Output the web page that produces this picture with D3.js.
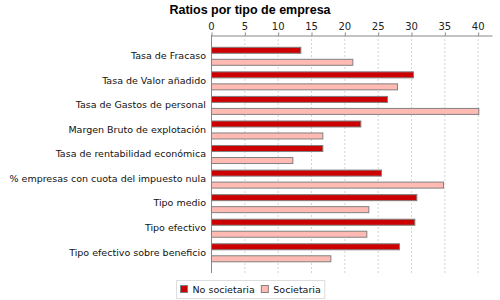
<!DOCTYPE html>
<html>
<head>
<meta charset="utf-8">
<script src="https://cdn.jsdelivr.net/npm/d3@7"></script>
<style>
  body { margin: 0; background: #fff; }
  text { font-family: "DejaVu Sans", sans-serif; }
</style>
</head>
<body>
<div id="chart"></div>
<script>
// data
var categories = [
    "Tasa de Fracaso",
    "Tasa de Valor añadido",
    "Tasa de Gastos de personal",
    "Margen Bruto de explotación",
    "Tasa de rentabilidad económica",
    "% empresas con cuota del impuesto nula",
    "Tipo medio",
    "Tipo efectivo",
    "Tipo efectivo sobre beneficio"
];
var seriesNames = ["No societaria", "Societaria"];
var noSocietaria = [13.4, 30.3, 26.4, 22.4, 16.7, 25.5, 30.8, 30.5, 28.2];
var societaria = [21.2, 27.9, 40.1, 16.7, 12.2, 34.8, 23.6, 23.3, 17.9];
var xTicks = [0, 5, 10, 15, 20, 25, 30, 35, 40];
var colors = ["#cc0000", "#ffbbb3"];

var W = 500, H = 300;
var margin = { top: 35, right: 8, bottom: 27, left: 211 };

var svg = d3.select("#chart")
    .append("svg")
    .attr("width", W)
    .attr("height", H);

// title
svg.append("text")
    .attr("x", 250)
    .attr("y", 14)
    .attr("text-anchor", "middle")
    .style("font-family", "'Liberation Sans', Arial, sans-serif")
    .style("font-weight", "bold")
    .style("font-size", "12.5px")
    .text("Ratios por tipo de empresa");

var x = d3.scaleLinear()
    .domain([0, 42.15])
    .range([margin.left, W - margin.right]);

var y = d3.scaleBand()
    .domain(categories)
    .range([margin.top, H - margin.bottom])
    .paddingInner(0.27)
    .paddingOuter(0.48);

var ySub = d3.scaleBand()
    .domain(seriesNames)
    .range([0, y.bandwidth()])
    .paddingInner(0.5);

// gridlines
svg.append("g")
    .selectAll("line")
    .data(xTicks.slice(1))
    .join("line")
    .attr("x1", d => x(d) + 0.5)
    .attr("x2", d => x(d) + 0.5)
    .attr("y1", margin.top)
    .attr("y2", H - margin.bottom)
    .attr("stroke", "#d4d4d4")
    .attr("stroke-dasharray", "2,2");

// top axis
var xAxis = svg.append("g")
    .attr("transform", "translate(0," + (margin.top + 0.5) + ")")
    .call(d3.axisTop(x).tickValues(xTicks).tickSize(3).tickPadding(3).tickSizeOuter(0));
xAxis.select(".domain").attr("stroke", "#888");
xAxis.selectAll(".tick line").attr("stroke", "#888").attr("transform", "translate(0.5,0)");
xAxis.selectAll(".tick text")
    .style("font-size", "10px")
    .attr("fill", "#222");

// left axis line
svg.append("line")
    .attr("x1", margin.left + 0.5)
    .attr("x2", margin.left + 0.5)
    .attr("y1", margin.top)
    .attr("y2", H - margin.bottom)
    .attr("stroke", "#888");

// category labels
svg.append("g")
    .selectAll("text")
    .data(categories)
    .join("text")
    .attr("x", margin.left - 5)
    .attr("y", d => y(d) + y.bandwidth() / 2)
    .attr("dy", "0.35em")
    .attr("text-anchor", "end")
    .style("font-size", "9.5px")
    .attr("fill", "#111")
    .text(d => d);

// bars
var rows = categories.map((c, i) => ({ cat: c, values: [noSocietaria[i], societaria[i]] }));
var groups = svg.append("g")
    .selectAll("g")
    .data(rows)
    .join("g")
    .attr("transform", d => "translate(0," + y(d.cat) + ")");

groups.selectAll("rect")
    .data(d => d.values.map((v, j) => ({ name: seriesNames[j], value: v, j: j })))
    .join("rect")
    .attr("x", x(0) + 0.5)
    .attr("y", d => Math.round(ySub(d.name)) + 0.5)
    .attr("width", d => x(d.value) - x(0))
    .attr("height", Math.round(ySub.bandwidth()))
    .attr("fill", d => colors[d.j])
    .attr("stroke", "#808080")
    .attr("stroke-width", 1);

// legend
var legend = svg.append("g");
var box = legend.append("rect")
    .attr("x", 176.5)
    .attr("y", 280.5)
    .attr("height", 18)
    .attr("fill", "#fff")
    .attr("stroke", "#ddd");

var lx = 180;
seriesNames.forEach(function (name, i) {
    legend.append("rect")
        .attr("x", lx + 0.5)
        .attr("y", 285.5)
        .attr("width", 7)
        .attr("height", 7)
        .attr("fill", colors[i])
        .attr("stroke", "#808080");
    var t = legend.append("text")
        .attr("x", lx + 12.5)
        .attr("y", 289.5)
        .attr("dy", "0.35em")
        .style("font-size", "9.5px")
        .attr("fill", "#111")
        .text(name);
    lx = lx + 12.5 + t.node().getComputedTextLength() + 6;
});
box.attr("width", lx - 176.5 - 2);
</script>
</body>
</html>
